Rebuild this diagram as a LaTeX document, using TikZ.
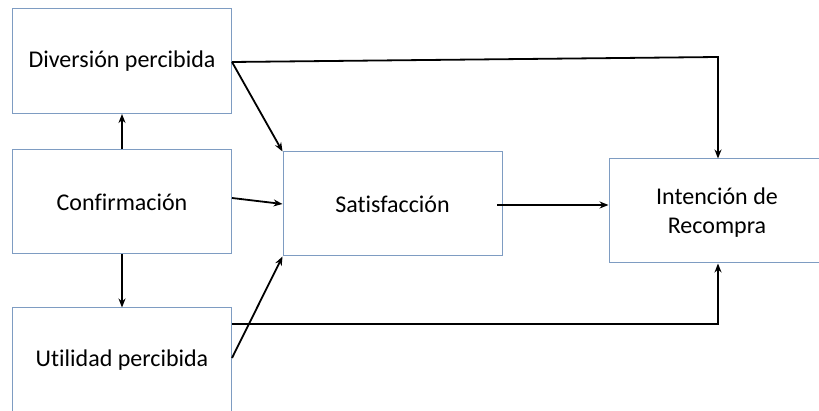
\documentclass[tikz,border=0pt]{standalone}
\usepackage{fontspec}
\setmainfont{Carlito}[Ligatures=NoCommon]
\usetikzlibrary{arrows.meta}
\definecolor{boxline}{RGB}{126,156,194}
\tikzset{
  box/.style={draw=boxline, line width=1pt, fill=white, inner sep=0pt, align=center,
    font=\fontsize{24}{30}\selectfont},
  label/.style={font=\fontsize{24}{29}\selectfont, inner sep=0pt, align=center},
  link/.style={draw=black, line width=1.8pt, -{Stealth[length=9pt,width=7pt]}}
}
\begin{document}
\begin{tikzpicture}[x=1pt,y=-1pt]
  \useasboundingbox (0,0) rectangle (819,411);
  \clip (0,0) rectangle (819,411);
  % boxes
  \node[box, minimum width=219pt, minimum height=105pt] (div) at (122,61) {Diversión percibida};
  \node[box, minimum width=219pt, minimum height=104pt] (conf) at (122,202) {Confirmación};
  \node[box, minimum width=219pt, minimum height=110pt] (util) at (122,363) {};
  \node[label] (utiltext) at (122,360) {Utilidad percibida};
  \node[box, minimum width=219pt, minimum height=104pt] (sat) at (392.5,204) {Satisfacción};
  \node[box, minimum width=216pt, minimum height=104pt] (int) at (717,211) {};
  \node[label] (inttext) at (717,213) {Intención de\\Recompra};
  % connection points
  \coordinate (divR) at (232,62);
  \coordinate (confR) at (232,198);
  \coordinate (satR) at (497,205);
  \coordinate (utilR1) at (232,324);
  \coordinate (utilR2) at (232,358);
  \coordinate (topCorner) at (718,57);
  \coordinate (botCorner) at (718,324);
  % arrows
  \draw[link] (conf.north) -- (div.south);
  \draw[link] (conf.south) -- (util.north);
  \draw[link] (divR) -- (sat.north west);
  \draw[link] (confR) -- (sat.west);
  \draw[link] (utilR2) -- (sat.south west);
  \draw[link] (satR) -- (int.west |- satR);
  \draw[link] (divR) -- (topCorner) -- (int.north -| topCorner);
  \draw[link] (utilR1) -- (botCorner) -- (int.south -| botCorner);
\end{tikzpicture}
\end{document}
